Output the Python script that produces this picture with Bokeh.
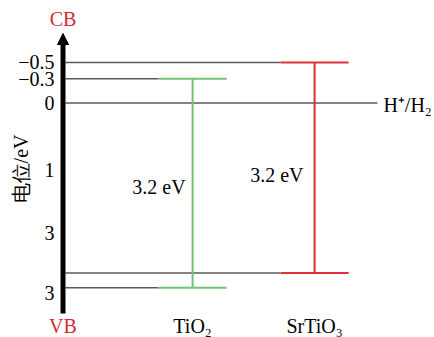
from bokeh.plotting import figure
from bokeh.models import Range1d, FixedTicker, Arrow, NormalHead
from bokeh.core.properties import value
from bokeh.embed import file_html
from bokeh.resources import INLINE

# ---- data (positions on the drawn potential axis) ----
materials = ["TiO₂", "SrTiO₃"]
cb_levels = [-0.3, -0.5]          # conduction band edges
vb_levels = [2.28, 2.10]          # valence band edges as drawn on the axis
gap_labels = ["3.2 eV", "3.2 eV"]
h2_level = 0.0
h2_label = "H⁺/H₂"
tick_pos = [-0.5, -0.3, 0.0, 0.833, 1.6, 2.34]
tick_labels = ["−0.5", "−0.3", "0", "1", "3", "3"]
colors = ["#74c274", "#e0303a"]

# ---- layout (positions, not data) ----
mat_x = [3.24, 6.29]
half_w = 0.85
gap_dx = [-0.175, -0.2775]
gap_y = [1.043, 0.895]
line_x0 = 0.06
h2_x1 = 7.86
label_y = 2.747
FONT = "Liberation Serif"
FS = "20px"

p = figure(width=434, height=337, output_backend="svg", toolbar_location=None,
           x_range=Range1d(-0.8125, 9.2875), y_range=Range1d(2.895, -1.2654),
           min_border_left=30, min_border_right=0, min_border_top=0, min_border_bottom=0,
           outline_line_color=None, background_fill_color="white", border_fill_color="white")
p.xaxis.visible = False
p.grid.visible = False

ya = p.yaxis[0]
ya.ticker = FixedTicker(ticks=tick_pos)
ya.major_label_overrides = {t: l for t, l in zip(tick_pos, tick_labels)}
ya.axis_line_color = None
ya.major_tick_line_color = None
ya.minor_tick_line_color = None
ya.major_tick_out = 0
ya.major_tick_in = 0
ya.major_label_standoff = -24
ya.major_label_text_font = FONT
ya.major_label_text_font_size = FS
ya.major_label_text_color = "black"
ya.axis_label = "电位/eV"
ya.axis_label_text_font = FONT
ya.axis_label_text_font_size = FS
ya.axis_label_text_font_style = "normal"
ya.axis_label_text_color = "black"
ya.axis_label_standoff = -17

# gray reference lines from the axis to each band edge
gx0, gx1, gy = [], [], []
for i in range(len(materials)):
    for lv in (cb_levels[i], vb_levels[i]):
        gx0.append(line_x0); gx1.append(mat_x[i] - half_w); gy.append(lv)
gx0.append(line_x0); gx1.append(h2_x1); gy.append(h2_level)
p.segment(x0=gx0, y0=gy, x1=gx1, y1=gy, line_color="#5a5a5a", line_width=1.5)

# band edges and gaps
for i, m in enumerate(materials):
    c = colors[i]
    p.segment(x0=[mat_x[i] - half_w] * 2, x1=[mat_x[i] + half_w] * 2,
              y0=[cb_levels[i], vb_levels[i]], y1=[cb_levels[i], vb_levels[i]],
              line_color=c, line_width=2)
    p.segment(x0=[mat_x[i]], x1=[mat_x[i]], y0=[cb_levels[i]], y1=[vb_levels[i]],
              line_color=c, line_width=2)
    p.text(x=[mat_x[i] + gap_dx[i]], y=[gap_y[i]], text=[gap_labels[i]],
           text_align="right", text_baseline="middle", text_font=value(FONT),
           text_font_size=FS, text_color="black")
    p.text(x=[mat_x[i]], y=[label_y], text=[m], text_align="center", text_baseline="middle",
           text_font=value(FONT), text_font_size=FS, text_color="black")

p.text(x=[h2_x1 + 0.15], y=[h2_level + 0.02], text=[h2_label], text_align="left",
       text_baseline="middle", text_font=value(FONT), text_font_size=FS, text_color="black")

# potential axis drawn as a thick arrow
p.add_layout(Arrow(end=NormalHead(size=11, fill_color="black", line_color="black"),
                   x_start=0, y_start=2.599, x_end=0, y_end=-0.858,
                   line_width=5, line_color="black"))
p.text(x=[0], y=[-1.043], text=["CB"], text_align="center", text_baseline="middle",
       text_font=value(FONT), text_font_size=FS, text_color="#d42a36")
p.text(x=[0], y=[label_y], text=["VB"], text_align="center", text_baseline="middle",
       text_font=value(FONT), text_font_size=FS, text_color="#d42a36")

open("out.html", "w").write(file_html(p, INLINE))
